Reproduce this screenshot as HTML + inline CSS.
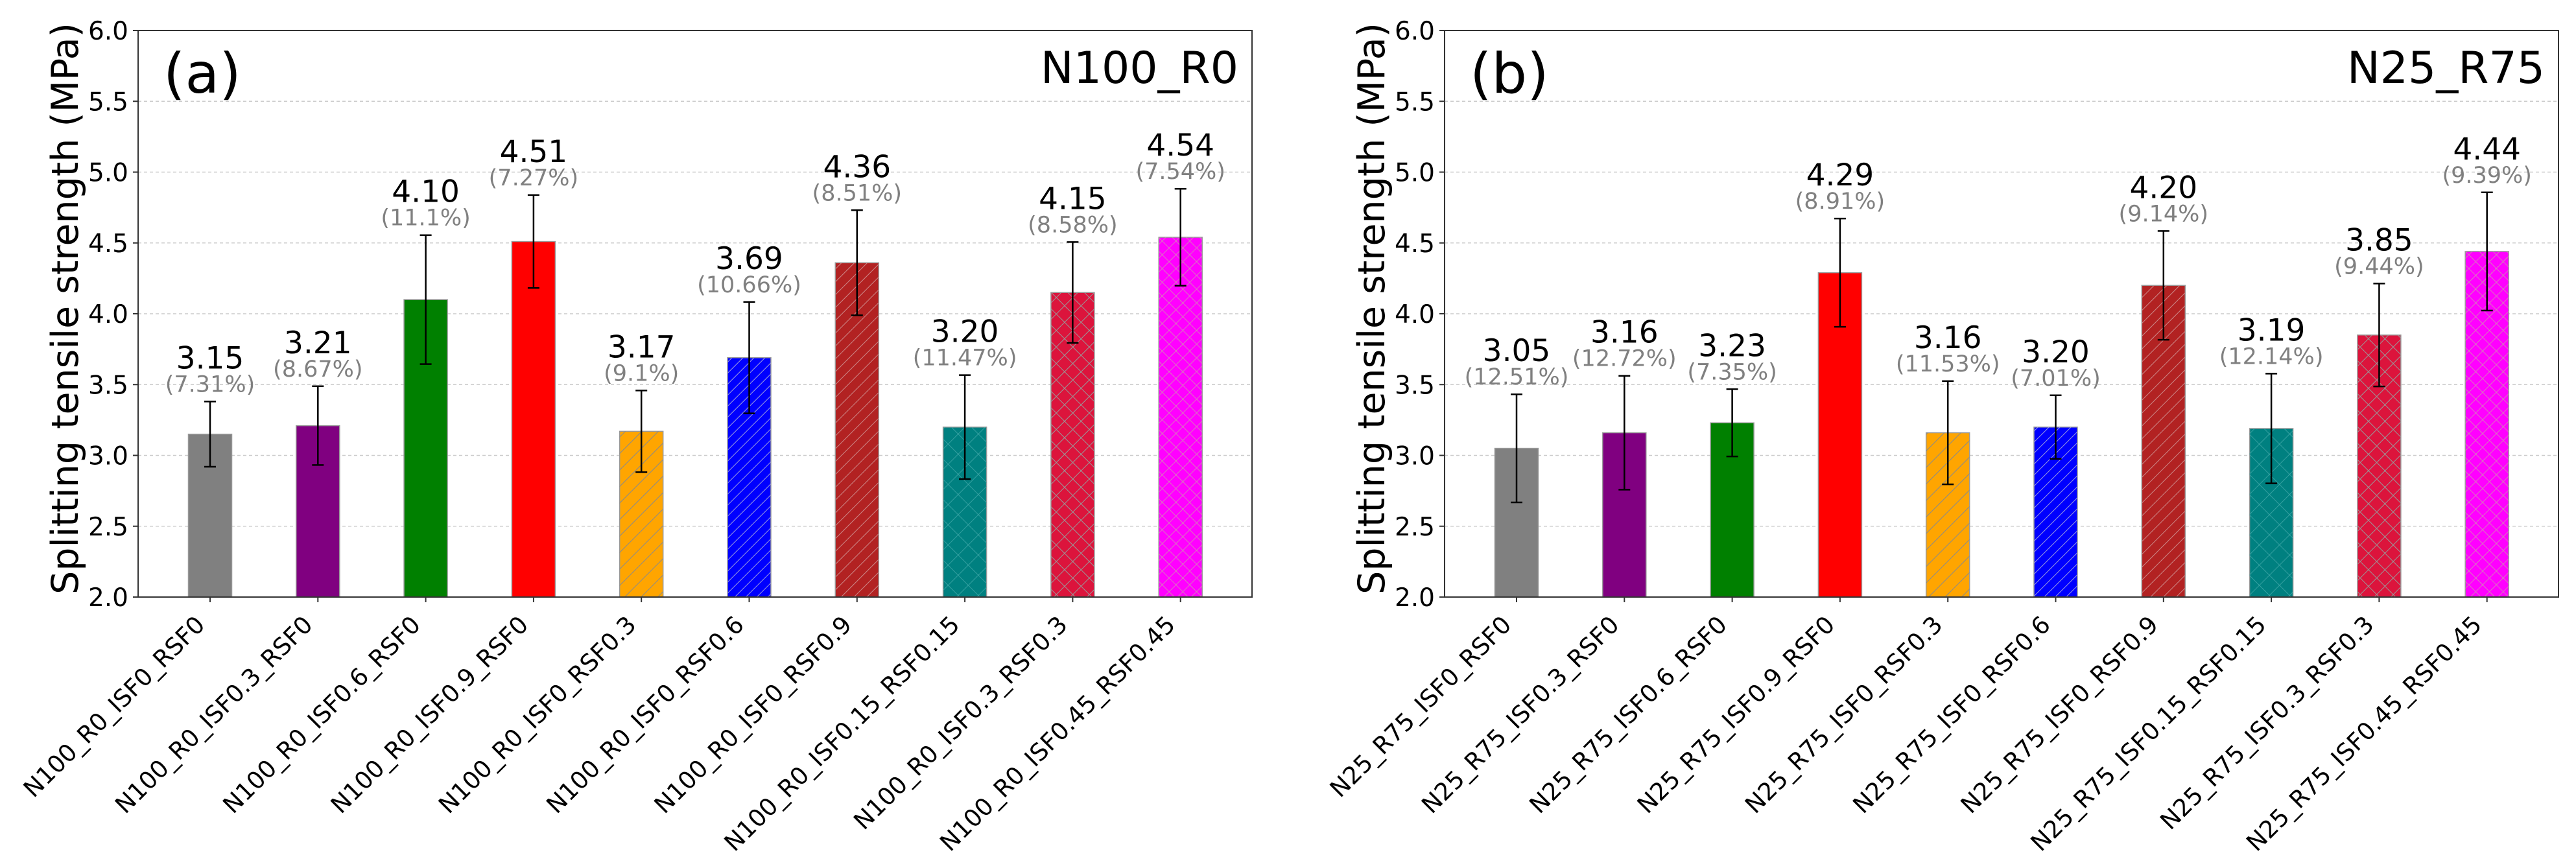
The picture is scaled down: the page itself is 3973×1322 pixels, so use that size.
<!DOCTYPE html>
<html><head><meta charset="utf-8"><style>
html,body{margin:0;padding:0;background:#fff;}
svg{display:block;font-family:"DejaVu Sans","Liberation Sans",sans-serif;}
</style></head>
<body>
<svg id="chart" width="3973" height="1322" viewBox="0 0 3973 1322" xmlns="http://www.w3.org/2000/svg">
<defs>
<pattern id="h-orange" patternUnits="userSpaceOnUse" width="18" height="18" patternTransform="rotate(45)"><line x1="0" y1="0" x2="0" y2="18" stroke="#8a8a8a" stroke-width="2"/></pattern>
<pattern id="h-blue" patternUnits="userSpaceOnUse" width="12" height="12" patternTransform="rotate(45)"><line x1="0" y1="0" x2="0" y2="12" stroke="#9a9adf" stroke-width="2"/></pattern>
<pattern id="h-brown" patternUnits="userSpaceOnUse" width="14" height="14" patternTransform="rotate(45)"><line x1="0" y1="0" x2="0" y2="14" stroke="#c88" stroke-width="2"/></pattern>
<pattern id="h-teal" patternUnits="userSpaceOnUse" width="22" height="22" patternTransform="rotate(45)"><line x1="0" y1="0" x2="0" y2="22" stroke="#4aa" stroke-width="1.5"/><line x1="0" y1="0" x2="22" y2="0" stroke="#4aa" stroke-width="1.5"/></pattern>
<pattern id="h-crimson" patternUnits="userSpaceOnUse" width="18" height="18" patternTransform="rotate(45)"><line x1="0" y1="0" x2="0" y2="18" stroke="#999" stroke-width="2"/><line x1="0" y1="0" x2="18" y2="0" stroke="#999" stroke-width="2"/></pattern>
<pattern id="h-magenta" patternUnits="userSpaceOnUse" width="15" height="15" patternTransform="rotate(45)"><line x1="0" y1="0" x2="0" y2="15" stroke="#c9a" stroke-width="1.5"/><line x1="0" y1="0" x2="15" y2="0" stroke="#c9a" stroke-width="1.5"/></pattern>
</defs>
</svg>
<script>
const catsA = ["N100_R0_ISF0_RSF0","N100_R0_ISF0.3_RSF0","N100_R0_ISF0.6_RSF0","N100_R0_ISF0.9_RSF0","N100_R0_ISF0_RSF0.3","N100_R0_ISF0_RSF0.6","N100_R0_ISF0_RSF0.9","N100_R0_ISF0.15_RSF0.15","N100_R0_ISF0.3_RSF0.3","N100_R0_ISF0.45_RSF0.45"];
const valsA = [3.15,3.21,4.10,4.51,3.17,3.69,4.36,3.20,4.15,4.54];
const cvA = ["7.31","8.67","11.1","7.27","9.1","10.66","8.51","11.47","8.58","7.54"];
const catsB = ["N25_R75_ISF0_RSF0","N25_R75_ISF0.3_RSF0","N25_R75_ISF0.6_RSF0","N25_R75_ISF0.9_RSF0","N25_R75_ISF0_RSF0.3","N25_R75_ISF0_RSF0.6","N25_R75_ISF0_RSF0.9","N25_R75_ISF0.15_RSF0.15","N25_R75_ISF0.3_RSF0.3","N25_R75_ISF0.45_RSF0.45"];
const valsB = [3.05,3.16,3.23,4.29,3.16,3.20,4.20,3.19,3.85,4.44];
const cvB = ["12.51","12.72","7.35","8.91","11.53","7.01","9.14","12.14","9.44","9.39"];
const yTicks = ["2.0","2.5","3.0","3.5","4.0","4.5","5.0","5.5","6.0"];

const colors = ["#808080","#800080","#008000","#ff0000","#ffa500","#0000ff","#b22222","#008080","#dc143c","#ff00ff"];
const hatches = [null,null,null,null,"h-orange","h-blue","h-brown","h-teal","h-crimson","h-magenta"];
const NS = "http://www.w3.org/2000/svg";
const svg = document.getElementById("chart");
const TOP = 47, BOT = 921, YMIN = 2, YMAX = 6;
function mk(tag, attrs, parent){ const e=document.createElementNS(NS,tag); for(const k in attrs) e.setAttribute(k,attrs[k]); (parent||svg).appendChild(e); return e; }

function panel(left, cats, vals, cvs, tag, title, key){
  const W = 1718, right = left + W;
  const step = 166.3, bw = 67;
  const y = v => BOT - (v - YMIN) / (YMAX - YMIN) * (BOT - TOP);
  const x = i => left + 111 + i * step;
  const g = mk("g", {});
  
  
  yTicks.forEach(t => {
    const v = parseFloat(t), yy = y(v);
    if (v > YMIN && v < YMAX) {
      const gl = mk("line", {x1:left, x2:right, y1:yy, y2:yy, stroke:"#cccccc", "stroke-width":1.5, "stroke-dasharray":"5,4"}, g);
      
      
    }
    const tk = mk("line", {x1:left-8, x2:left, y1:yy, y2:yy, stroke:"#333", "stroke-width":2}, g);
    
    
    const tl = mk("text", {x:left-15, y:yy+14, "text-anchor":"end", "font-size":39, fill:"#000"}, g);
    tl.textContent = t;
    
    
  });
  vals.forEach((v, i) => {
    const cx = x(i), yt = y(v);
    const bar = mk("rect", {x:cx-bw/2, y:yt, width:bw, height:BOT-yt, fill:colors[i], stroke:"#999", "stroke-width":1.5}, g);
    
    
    if (hatches[i]) {
      const hb = mk("rect", {x:cx-bw/2, y:yt, width:bw, height:BOT-yt, fill:"url(#"+hatches[i]+")"}, g);
      
      
    }
    const err = v * parseFloat(cvs[i]) / 100;
    const e1 = y(v + err), e2 = y(v - err);
    const eb = mk("path", {d:`M${cx},${e1}V${e2}M${cx-9},${e1}H${cx+9}M${cx-9},${e2}H${cx+9}`, stroke:"#000", "stroke-width":2.5, fill:"none"}, g);
    
    
    const vl = mk("text", {x:cx, y:e1-51, "text-anchor":"middle", "font-size":47, fill:"#000"}, g);
    vl.textContent = v.toFixed(2);
    
    
    const pl = mk("text", {x:cx, y:e1-15, "text-anchor":"middle", "font-size":35, fill:"#808080"}, g);
    pl.textContent = "(" + cvs[i] + "%)";
    
    
    const xt = mk("line", {x1:cx, x2:cx, y1:BOT, y2:BOT+8, stroke:"#333", "stroke-width":2}, g);
    
    
    const px = cx - 6, py = 966;
    const xl = mk("text", {x:px, y:py, "text-anchor":"end", "font-size":37, fill:"#000", transform:`rotate(-45 ${px} ${py})`}, g);
    xl.textContent = cats[i];
    
    
  });
  const fr = mk("rect", {x:left, y:TOP, width:W, height:BOT-TOP, fill:"none", stroke:"#333", "stroke-width":2}, g);
  
  
  const tx = left - 93, ty = 476;
  const yt = mk("text", {x:tx, y:ty, "text-anchor":"middle", "font-size":57, fill:"#000", transform:`rotate(-90 ${tx} ${ty})`}, g);
  yt.textContent = "Splitting tensile strength (MPa)";
  
  
  const pt = mk("text", {x:left+39, y:143, "font-size":86, fill:"#000"}, g);
  pt.textContent = tag;
  
  
  const tt = mk("text", {x:right-21, y:128, "text-anchor":"end", "font-size":68, fill:"#000"}, g);
  tt.textContent = title;
  
  
}
panel(213, catsA, valsA, cvA, "(a)", "N100_R0", "left");
panel(2228, catsB, valsB, cvB, "(b)", "N25_R75", "right");
</script>
</body></html>
